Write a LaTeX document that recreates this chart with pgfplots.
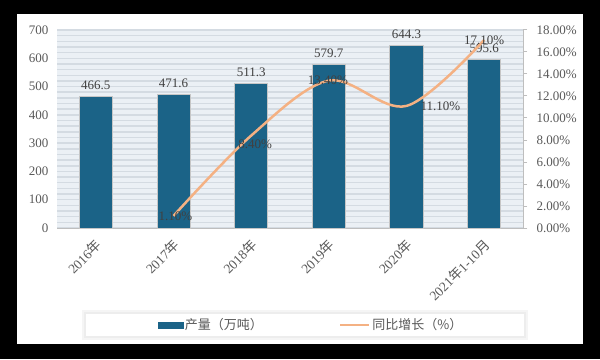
\documentclass[border=0pt]{standalone}
\usepackage{pgfplots}
\usepackage{pgfplotstable}
\pgfplotsset{compat=1.18}
\usepackage{fontspec}
\setmainfont{Liberation Serif}
\newfontfamily\cjk{Noto Sans CJK SC}
\definecolor{barc}{RGB}{27,99,135}
\definecolor{linec}{RGB}{244,177,131}
\definecolor{tickc}{RGB}{89,89,89}
\definecolor{labc}{RGB}{64,64,64}
\definecolor{bgc}{RGB}{235,240,245}
\definecolor{gridc}{RGB}{212,219,226}
\definecolor{axc}{RGB}{190,190,190}
\pgfplotstableread{
x val
0 466.5
1 471.6
2 511.3
3 579.7
4 644.3
5 595.6
}\prodtable
\pgfplotstableread{
x val
1 1.1
2 8.4
3 13.4
4 11.1
5 17.1
}\growtable
\begin{document}
\begin{tikzpicture}[x=1pt,y=1pt]
\fill[black] (0,0) rectangle (600,359);
\fill[white] (17,15) rectangle (583,345);
% legend box with soft shadow
\fill[gray!8] (82,19) rectangle (528,49);
\fill[gray!14] (84,21) rectangle (526,47);
\fill[white] (86,23) rectangle (524,45);
\begin{axis}[
  at={(57pt,131pt)}, anchor=south west, scale only axis,
  width=466pt, height=198pt,
  xmin=-0.5, xmax=5.5, ymin=0, ymax=700,
  /pgf/number format/assume math mode=true,
  ytick={0,100,...,700}, minor y tick num=4,
  xtick={0,...,5},
  xticklabels={2016{\cjk 年},2017{\cjk 年},2018{\cjk 年},2019{\cjk 年},2020{\cjk 年},2021{\cjk 年}1-10{\cjk 月}},
  axis x line*=bottom, axis y line*=left,
  x axis line style={axc, line width=1pt, -},
  y axis line style={draw=none},
  major tick length=0pt, minor tick length=0pt,
  tick style={draw=none},
  ymajorgrids, yminorgrids,
  major grid style={gridc, line width=1.5pt},
  minor grid style={gridc, line width=1.5pt},
  axis background/.style={fill=bgc},
  tick label style={font=\fontsize{13}{13}\selectfont, text=tickc},
  y tick label style={xshift=-5pt},
  x tick label style={font=\fontsize{13.5}{13.5}\selectfont, rotate=45, anchor=north east, inner sep=0pt, yshift=-6pt, xshift=-8pt},
]
\addplot[ybar, bar width=33pt, fill=barc, draw=gray!45, line width=1pt,
  nodes near coords={\pgfmathprintnumber[fixed,precision=1,fixed zerofill]{\pgfplotspointmeta}},
  every node near coord/.append style={font=\fontsize{13}{13}\selectfont, text=labc, yshift=3pt}]
  table[x=x,y=val]{\prodtable};
\end{axis}
\begin{axis}[
  at={(57pt,131pt)}, anchor=south west, scale only axis,
  width=466pt, height=198pt,
  xmin=-0.5, xmax=5.5, ymin=0, ymax=18,
  axis x line=none, axis y line*=right,
  y axis line style={axc, line width=1pt, -},
  ytick={0,2,...,18},
  yticklabels={0.00\%,2.00\%,4.00\%,6.00\%,8.00\%,10.00\%,12.00\%,14.00\%,16.00\%,18.00\%},
  tick align=outside, major tick length=4pt,
  tick style={axc, line width=1pt},
  y tick label style={font=\fontsize{13}{13}\selectfont, text=tickc, xshift=6pt},
  legend style={at={(0.545,-0.49)}, anchor=center, draw=none, fill=none,
    font=\cjk\fontsize{13}{13}\selectfont, text=tickc},
  legend columns=2,
  /tikz/every even column/.append style={column sep=74pt},
]
\addlegendimage{legend image code/.code={\fill[barc] (0pt,-3pt) rectangle (25pt,3pt);}}
\addlegendentry{产量（万吨）}
\addplot[linec, line width=2.5pt, smooth, tension=0.55,
  legend image code/.code={\draw[linec,line width=2.5pt] (0pt,0pt) -- (29pt,0pt);}]
  table[x=x,y=val]{\growtable};
\addlegendentry{同比增长（\%）}
\node[font=\fontsize{13}{13}\selectfont, text=labc] at (axis cs:1,1.1) [xshift=2pt] {1.10\%};
\node[font=\fontsize{13}{13}\selectfont, text=labc] at (axis cs:2,8.4) [yshift=-9pt, xshift=4pt] {8.40\%};
\node[font=\fontsize{13}{13}\selectfont, text=labc] at (axis cs:3,13.4) [xshift=-1pt] {13.40\%};
\node[font=\fontsize{13}{13}\selectfont, text=labc] at (axis cs:4,11.1) [xshift=34pt] {11.10\%};
\node[font=\fontsize{13}{13}\selectfont, text=labc] at (axis cs:5,17.1) {17.10\%};
\end{axis}
\end{tikzpicture}
\end{document}
